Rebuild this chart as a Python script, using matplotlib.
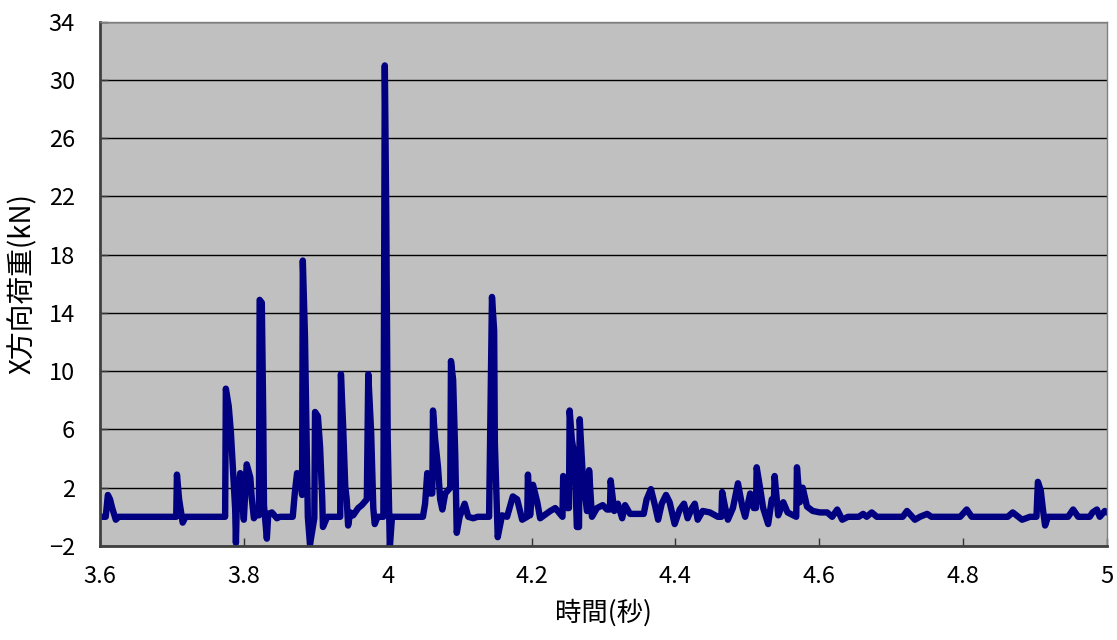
import matplotlib.pyplot as plt
import numpy as np

# time (s) and X-direction load (kN)
t = [3.600, 3.608, 3.611, 3.614, 3.617, 3.622, 3.626, 3.706, 3.707, 3.710, 3.715, 3.719,
     3.774, 3.775, 3.779, 3.782, 3.785, 3.788, 3.789, 3.790, 3.795, 3.797, 3.800, 3.804,
     3.809, 3.811, 3.814, 3.818, 3.821, 3.822, 3.825, 3.827, 3.828, 3.832, 3.834, 3.839,
     3.846, 3.850, 3.868, 3.871, 3.874, 3.878, 3.881, 3.882, 3.885, 3.888, 3.889, 3.892,
     3.898, 3.899, 3.903, 3.906, 3.909, 3.910, 3.916, 3.934, 3.935, 3.938, 3.941, 3.943,
     3.945, 3.948, 3.952, 3.959, 3.964, 3.971, 3.973, 3.977, 3.980, 3.982, 3.986, 3.994,
     3.996, 3.998, 4.000, 4.003, 4.006, 4.049, 4.052, 4.055, 4.059, 4.062, 4.063, 4.066,
     4.070, 4.073, 4.076, 4.080, 4.087, 4.088, 4.091, 4.094, 4.096, 4.100, 4.107, 4.112,
     4.119, 4.125, 4.141, 4.145, 4.148, 4.149, 4.153, 4.159, 4.166, 4.174, 4.180, 4.187,
     4.194, 4.195, 4.198, 4.202, 4.208, 4.212, 4.226, 4.233, 4.243, 4.244, 4.249, 4.252,
     4.253, 4.256, 4.260, 4.263, 4.266, 4.267, 4.271, 4.277, 4.279, 4.280, 4.284, 4.291,
     4.299, 4.305, 4.309, 4.310, 4.315, 4.320, 4.326, 4.330, 4.337, 4.351, 4.356, 4.360,
     4.366, 4.372, 4.376, 4.381, 4.387, 4.392, 4.399, 4.406, 4.412, 4.417, 4.423, 4.427,
     4.431, 4.438, 4.448, 4.459, 4.464, 4.465, 4.469, 4.473, 4.480, 4.487, 4.493, 4.497,
     4.504, 4.509, 4.512, 4.513, 4.518, 4.522, 4.529, 4.534, 4.537, 4.538, 4.543, 4.550,
     4.556, 4.568, 4.569, 4.573, 4.577, 4.583, 4.591, 4.601, 4.611, 4.618, 4.625, 4.632,
     4.640, 4.655, 4.661, 4.666, 4.673, 4.680, 4.716, 4.722, 4.733, 4.740, 4.750, 4.756,
     4.796, 4.805, 4.812, 4.862, 4.869, 4.882, 4.893, 4.902, 4.904, 4.908, 4.911, 4.914,
     4.918, 4.946, 4.953, 4.960, 4.976, 4.980, 4.986, 4.990, 4.997, 5.000]
fx = [0, 0, 1.5, 1.2, 0.6, -0.2, 0, 0, 2.9, 1.2, -0.4, 0,
      0, 8.8, 7.6, 5.8, 3.2, 0.5, -1.8, 0.3, 3.0, 1.5, -0.2, 3.6,
      2.7, 1.3, -0.1, 0.2, 0.1, 14.9, 14.7, 6.8, 0.8, -1.5, 0.2, 0.3,
      -0.1, 0, 0, 1.7, 3.0, 2.9, 1.5, 17.6, 12.4, 2.9, 0, -1.9,
      -0.1, 7.2, 6.9, 4.8, 1.2, -0.7, 0, 0, 9.8, 6.3, 2.1, 1.2,
      -0.6, 0.3, 0.1, 0.6, 0.8, 1.2, 9.8, 5.8, 0.6, -0.5, 0, 0,
      31.0, 20.8, 5.5, -2.1, 0, 0, 0.9, 3.0, 1.6, 1.6, 7.3, 5.3,
      3.4, 1.2, 0.5, 1.6, 2.0, 10.7, 9.4, 4.1, -1.1, 0, 0.9, 0,
      -0.1, 0, 0, 15.1, 12.8, 5.1, -1.4, 0.1, 0, 1.4, 1.2, -0.2,
      0, 2.9, 0.1, 2.2, 1.0, -0.1, 0.4, 0.6, 0, 2.8, 0.6, 0.6,
      7.3, 5.3, 4.1, -0.7, -0.7, 6.7, 3.0, 0.4, 0.4, 3.2, 0, 0.6,
      0.8, 0.5, 0.5, 2.5, 0.4, 0.9, -0.1, 0.8, 0.2, 0.2, 0.2, 1.2,
      1.9, 0.7, -0.2, 0.9, 1.5, 1.0, -0.5, 0.5, 0.9, -0.1, 0.6, 0.9,
      -0.2, 0.4, 0.3, 0, 0, 1.7, 0.7, -0.2, 0.6, 2.3, 0.7, 0,
      1.6, 0.6, 0.6, 3.4, 1.9, 0.6, -0.5, 1.2, 1.2, 2.8, 0.1, 1.0,
      0.3, 0, 3.4, 1.0, 2.0, 0.7, 0.4, 0.3, 0.3, 0, 0.5, -0.2,
      0, 0, 0.2, 0, 0.3, 0, 0, 0.4, -0.2, 0, 0.2, 0,
      0, 0.5, 0, 0, 0.3, -0.2, 0, 0, 2.4, 1.8, 0.5, -0.6,
      0, 0, 0.5, 0, 0, 0.3, 0.5, 0, 0.4, 0.3]

x_ticks = [3.6, 3.8, 4.0, 4.2, 4.4, 4.6, 4.8, 5.0]
x_labels = ['3.6', '3.8', '4', '4.2', '4.4', '4.6', '4.8', '5']
y_ticks = [-2, 2, 6, 10, 14, 18, 22, 26, 30, 34]

plt.rcParams['font.family'] = ['Liberation Sans Narrow', 'Noto Sans CJK JP', 'DejaVu Sans']

fig = plt.figure(figsize=(11.17, 6.4), dpi=100)
ax = fig.add_axes([0.0895, 0.147, 0.9015, 0.819])
ax.set_facecolor('#c0c0c0')

ax.plot(t, fx, color='#000080', lw=4.6, solid_joinstyle='round', solid_capstyle='round')

ax.set_xlim(3.6, 5.0)
ax.set_ylim(-2, 34)
ax.set_xticks(x_ticks)
ax.set_xticklabels(x_labels)
ax.set_yticks(y_ticks)
ax.yaxis.grid(True, color='black', lw=1.0)
ax.set_axisbelow(True)

ax.tick_params(axis='both', direction='in', length=6, width=1, colors='#333333',
               labelsize=17, labelcolor='black')
ax.tick_params(axis='x', pad=14)
ax.tick_params(axis='y', pad=18)

for side in ['left', 'bottom']:
    ax.spines[side].set_color('#404040')
    ax.spines[side].set_linewidth(2)
for side in ['top', 'right']:
    ax.spines[side].set_color('#808080')
    ax.spines[side].set_linewidth(1)

cjk = ['Noto Sans CJK JP', 'DejaVu Sans']
ax.set_xlabel('時間(秒)', fontsize=19, family=cjk, labelpad=8)
ax.set_ylabel('X方向荷重(kN)', fontsize=20, family=cjk, labelpad=8)

fig.savefig('out.png', dpi=100)
